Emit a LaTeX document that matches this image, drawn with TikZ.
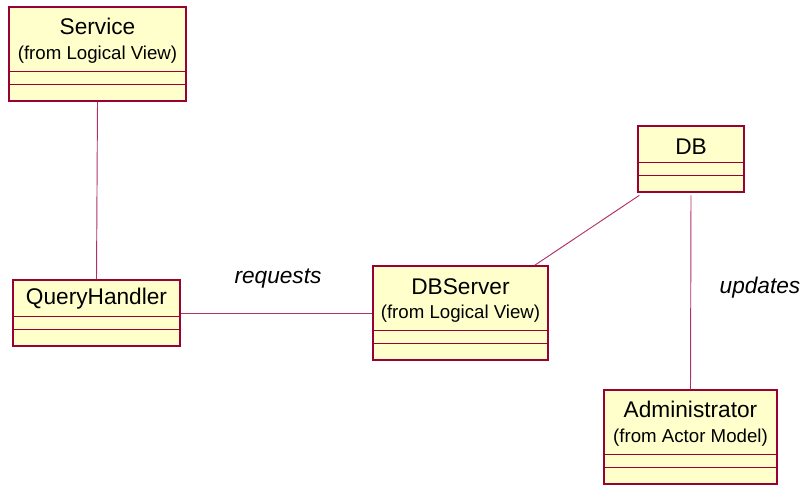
\documentclass[tikz,border=0pt]{standalone}
\usepackage{fontspec}
\setmainfont{Liberation Sans}
\usetikzlibrary{positioning}
\definecolor{umlred}{HTML}{990033}
\definecolor{umlfill}{HTML}{FFFFCC}
\definecolor{umlline}{HTML}{B03068}
\tikzset{
  cls/.style={draw=umlred, fill=umlfill, line width=1.1pt, rectangle, inner sep=0pt},
  ttl/.style={inner sep=0pt, font=\fontsize{17}{20}\selectfont},
  frm/.style={inner sep=0pt, font=\fontsize{14}{17}\selectfont},
  assoc/.style={draw=umlline, line width=0.7pt},
  role/.style={inner sep=0pt, font=\fontsize{17}{20}\selectfont\itshape}
}
% class box: name, centre, width, height (in pt)
\newcommand{\umlclass}[4]{
  \node[cls, minimum width=#3, minimum height=#4] (#1) at #2 {};
  \draw[umlred, line width=0.6pt] ([yshift=12.75pt]#1.south west) -- ([yshift=12.75pt]#1.south east);
  \draw[umlred, line width=0.6pt] ([yshift=22.5pt]#1.south west) -- ([yshift=22.5pt]#1.south east);
}
\begin{document}
\begin{tikzpicture}[x=0.75pt, y=-0.75pt]
\useasboundingbox (0,0) rectangle (807,491);
%------------------
\umlclass{svc}{(97.5,54)}{132.75pt}{70.5pt}
\umlclass{qh}{(96.5,313)}{125.25pt}{49.5pt}
\umlclass{dbs}{(460.5,313)}{131.25pt}{70.5pt}
\umlclass{db}{(691,159)}{79.5pt}{49.5pt}
\umlclass{adm}{(690.5,437)}{129.75pt}{70.5pt}
%------------------
\node[ttl, below=15pt of svc.north, anchor=center] (svcname) {Service};
\node[frm, below=36pt of svc.north, anchor=center] (svcfrom) {(from Logical View)};
\node[ttl, below=14.5pt of qh.north, anchor=center] (qhname) {QueryHandler};
\node[ttl, below=16pt of dbs.north, anchor=center] (dbsname) {DBServer};
\node[frm, below=36.5pt of dbs.north, anchor=center] (dbsfrom) {(from Logical View)};
\node[ttl, below=16pt of db.north, anchor=center] (dbname) {DB};
\node[ttl, below=15pt of adm.north, anchor=center] (admname) {Administrator};
\node[frm, below=36pt of adm.north, anchor=center] (admfrom) {(from Actor Model)};
%------------------
\draw[assoc] (svc.south) -- (qh.north);
\draw[assoc] (qh.east) -- (dbs.west);
\draw[assoc] ([xshift=1.5pt,yshift=-2pt]db.south west) -- ([xshift=-10.5pt]dbs.north east);
\draw[assoc] ([yshift=-2pt]db.south) -- (adm.north);
\node[role] (req) at (278,279) {requests};
\node[role] (upd) at (760,288) {updates};
\end{tikzpicture}
\end{document}
